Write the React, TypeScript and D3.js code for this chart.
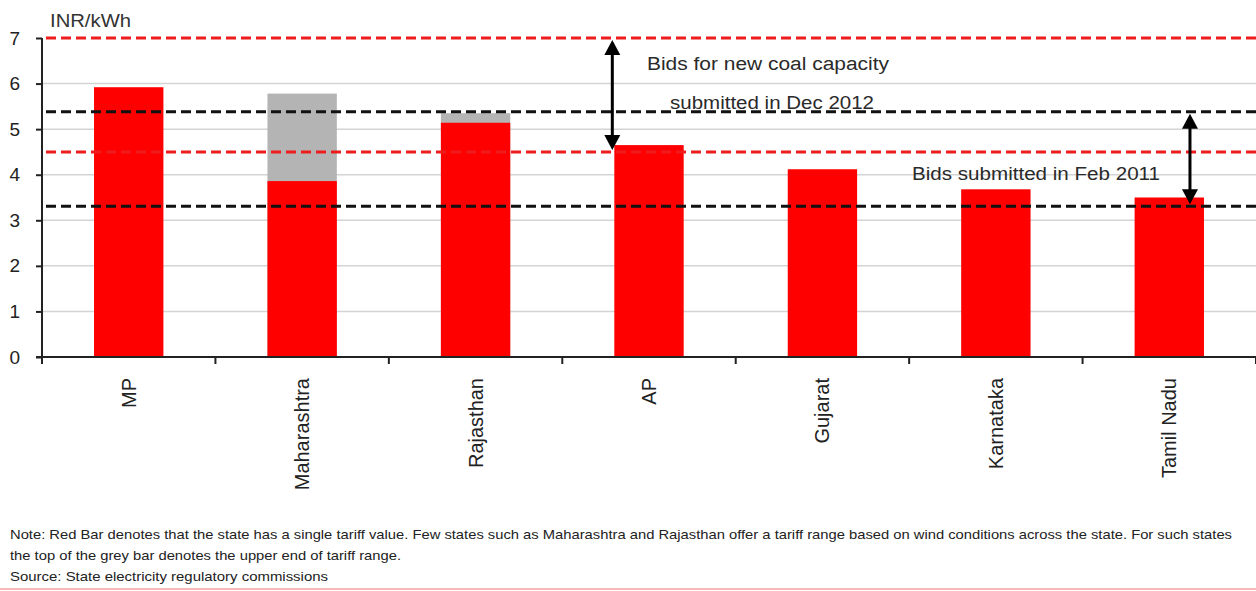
import React, { useEffect, useRef } from 'react';
import * as d3 from 'd3';

const states = ['MP', 'Maharashtra', 'Rajasthan', 'AP', 'Gujarat', 'Karnataka', 'Tamil Nadu'];
// single tariff (red bar) and upper end of tariff range (grey bar, null when none)
const tariffLow = [5.92, 3.86, 5.14, 4.65, 4.12, 3.68, 3.5];
const tariffHigh: (number | null)[] = [null, 5.78, 5.35, null, null, null, null];
const yTicks = [0, 1, 2, 3, 4, 5, 6, 7];

// benchmark bid ranges
const coalBids2012 = [4.5, 7];
const bids2011 = [3.31, 5.38];

const noteLines = [
    'Note: Red Bar denotes that the state has a single tariff value. Few states such as Maharashtra and Rajasthan offer a tariff range based on wind conditions across the state. For such states',
    'the top of the grey bar denotes the upper end of tariff range.',
    'Source:  State electricity regulatory commissions'
];

const width = 1256;
const height = 591;
const margin = { top: 38, right: 0, bottom: 234, left: 42 };
const font = '"Liberation Sans", Arial, sans-serif';

const App: React.FC = () => {
    const svgRef = useRef<SVGSVGElement>(null);

    useEffect(() => {
        if (!svgRef.current) return;
        const svg = d3.select(svgRef.current);
        svg.selectAll('*').remove();

        const x = d3.scaleBand<string>()
            .domain(states)
            .range([margin.left, width - margin.right])
            .paddingInner(0.6)
            .paddingOuter(0.3);

        const y = d3.scaleLinear()
            .domain([0, 7])
            .range([height - margin.bottom, margin.top]);

        const g = svg.append('g');

        // gridlines
        g.append('g')
            .selectAll('line')
            .data(yTicks.filter(t => t > 0 && t < 7))
            .enter()
            .append('line')
            .attr('x1', margin.left)
            .attr('x2', width)
            .attr('y1', d => y(d))
            .attr('y2', d => y(d))
            .attr('stroke', '#d4d4d4')
            .attr('stroke-width', 1.5);

        // grey range bars
        const rangeData = states.map((s, i) => ({ s, hi: tariffHigh[i] })).filter(d => d.hi !== null);
        g.append('g')
            .selectAll('rect')
            .data(rangeData)
            .enter()
            .append('rect')
            .attr('x', d => x(d.s)!)
            .attr('width', x.bandwidth())
            .attr('y', d => y(d.hi as number))
            .attr('height', d => y(0) - y(d.hi as number))
            .attr('fill', '#b4b4b4');

        // red bars
        g.append('g')
            .selectAll('rect')
            .data(states.map((s, i) => ({ s, v: tariffLow[i] })))
            .enter()
            .append('rect')
            .attr('x', d => x(d.s)!)
            .attr('width', x.bandwidth())
            .attr('y', d => y(d.v))
            .attr('height', d => y(0) - y(d.v))
            .attr('fill', '#ff0000');

        // dashed benchmark lines
        const dashed = [
            ...coalBids2012.map(v => ({ v, c: '#ee1c1c' })),
            ...bids2011.map(v => ({ v, c: '#111111' }))
        ];
        g.append('g')
            .selectAll('line')
            .data(dashed)
            .enter()
            .append('line')
            .attr('x1', margin.left + 4)
            .attr('x2', width)
            .attr('y1', d => y(d.v))
            .attr('y2', d => y(d.v))
            .attr('stroke', d => d.c)
            .attr('stroke-width', 3)
            .attr('stroke-dasharray', '10,5');

        // y axis
        const yAxis = g.append('g')
            .attr('transform', `translate(${margin.left},0)`)
            .call(d3.axisLeft(y).tickValues(yTicks).tickSize(6).tickFormat(d3.format('d')));
        yAxis.select('.domain').attr('stroke', '#222').attr('stroke-width', 2).attr('d', `M0,${y(7)}V${y(0)}`);
        yAxis.selectAll('.tick line').attr('stroke', '#222').attr('stroke-width', 2);
        yAxis.selectAll('.tick text')
            .attr('x', -22)
            .attr('font-family', font)
            .attr('font-size', 19)
            .attr('fill', '#222');

        // x axis
        const xAxis = g.append('g')
            .attr('transform', `translate(0,${y(0)})`);
        xAxis.append('line')
            .attr('x1', margin.left - 6)
            .attr('x2', width)
            .attr('stroke', '#222')
            .attr('stroke-width', 2);
        const step = x.step();
        xAxis.selectAll('.xtick')
            .data(d3.range(states.length + 1))
            .enter()
            .append('line')
            .attr('class', 'xtick')
            .attr('x1', i => margin.left + i * step)
            .attr('x2', i => margin.left + i * step)
            .attr('y1', 0)
            .attr('y2', 7)
            .attr('stroke', '#222')
            .attr('stroke-width', 2);
        xAxis.selectAll('.xlabel')
            .data(states)
            .enter()
            .append('text')
            .attr('class', 'xlabel')
            .attr('transform', d => `translate(${x(d)! + x.bandwidth() / 2 + 7},21) rotate(-90)`)
            .attr('text-anchor', 'end')
            .attr('font-family', font)
            .attr('font-size', 20)
            .attr('fill', '#222')
            .text(d => d);

        // unit label
        svg.append('text')
            .attr('x', 50)
            .attr('y', 27)
            .attr('font-family', font)
            .attr('font-size', 19)
            .attr('textLength', 81)
            .attr('lengthAdjust', 'spacingAndGlyphs')
            .attr('fill', '#333')
            .text('INR/kWh');

        // double arrows
        const arrowX1 = x('AP')! - 2;
        const arrowX2 = x('Tamil Nadu')! + x.bandwidth() - 14;
        const arrows = [
            { ax: arrowX1, top: coalBids2012[1], bot: coalBids2012[0] },
            { ax: arrowX2, top: bids2011[1], bot: bids2011[0] }
        ];
        arrows.forEach(a => {
            const y1 = y(a.top) + 2;
            const y2 = y(a.bot) - 2;
            g.append('line')
                .attr('x1', a.ax).attr('x2', a.ax)
                .attr('y1', y1 + 12).attr('y2', y2 - 12)
                .attr('stroke', '#000').attr('stroke-width', 3);
            g.append('path')
                .attr('d', `M${a.ax},${y1}L${a.ax - 8},${y1 + 15}L${a.ax + 8},${y1 + 15}Z`)
                .attr('fill', '#000');
            g.append('path')
                .attr('d', `M${a.ax},${y2}L${a.ax - 8},${y2 - 15}L${a.ax + 8},${y2 - 15}Z`)
                .attr('fill', '#000');
        });

        // annotations
        const ann = [
            { t: 'Bids for new  coal capacity', x: 647, y: 70, w: 242 },
            { t: 'submitted in Dec 2012', x: 670, y: 109, w: 204 },
            { t: 'Bids submitted in Feb 2011', x: 912, y: 180, w: 248 }
        ];
        svg.append('g')
            .selectAll('text')
            .data(ann)
            .enter()
            .append('text')
            .attr('x', d => d.x)
            .attr('y', d => d.y)
            .attr('textLength', d => d.w)
            .attr('lengthAdjust', 'spacingAndGlyphs')
            .attr('font-family', font)
            .attr('font-size', 18)
            .attr('fill', '#2a2a2a')
            .text(d => d.t);

        // notes
        const noteW = [1222, 391, 318];
        svg.append('g')
            .selectAll('text')
            .data(noteLines)
            .enter()
            .append('text')
            .attr('x', 10)
            .attr('y', (d, i) => 539 + i * 21)
            .attr('textLength', (d, i) => noteW[i])
            .attr('lengthAdjust', 'spacingAndGlyphs')
            .attr('font-family', font)
            .attr('font-size', 13)
            .attr('fill', '#222')
            .text(d => d);

        // bottom border
        svg.append('line')
            .attr('x1', 0).attr('x2', width)
            .attr('y1', 589).attr('y2', 589)
            .attr('stroke', '#f7b8b8').attr('stroke-width', 2);
    }, []);

    return (
        <svg
            ref={svgRef}
            width={width}
            height={height}
            style={{ position: 'absolute', left: 0, top: 0, background: '#fff' }}
        />
    );
};

export default App;
